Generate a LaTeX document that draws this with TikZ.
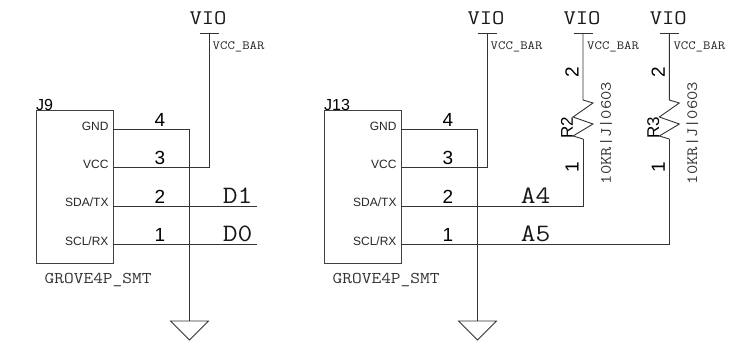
\documentclass[tikz,border=0pt]{standalone}
\usepackage{fontspec}
\setmainfont{Liberation Sans}
\newfontfamily\schmono[FakeStretch=1.15]{Latin Modern Mono}
\tikzset{
  wire/.style={line width=0.9pt,color=black!80},
  part/.style={draw=black!75,line width=0.9pt,inner sep=0pt,outer sep=0pt,minimum width=77pt,minimum height=153pt,anchor=north west},
  pinname/.style={inner sep=0pt,anchor=base east,font=\fontsize{12}{12}\selectfont,color=black!85},
  pinnum/.style={inner sep=0pt,anchor=base,font=\fontsize{19}{19}\selectfont},
  refdes/.style={inner sep=0pt,anchor=base west,font=\fontsize{16}{16}\selectfont},
  railtop/.style={inner sep=0pt,anchor=base,font=\schmono\fontsize{20.8}{20.8}\selectfont,color=black!90},
  netname/.style={inner sep=0pt,anchor=base,font=\schmono\fontsize{25}{25}\selectfont,color=black!90},
  railname/.style={inner sep=0pt,anchor=base west,font=\schmono\fontsize{12.5}{12.5}\selectfont,color=black!85},
  footprint/.style={inner sep=0pt,anchor=base west,font=\schmono\fontsize{16.4}{16.4}\selectfont,color=black!80},
  rotnum/.style={inner sep=0pt,rotate=90,font=\fontsize{19}{19}\selectfont},
  rotref/.style={inner sep=0pt,rotate=90,font=\fontsize{17}{17}\selectfont},
  rotval/.style={inner sep=0pt,rotate=90,font=\schmono\fontsize{15.7}{15.7}\selectfont,color=black!80},
}
\begin{document}
\begin{tikzpicture}[x=1pt,y=1pt]
  \useasboundingbox (0,0) rectangle (751,-359);

  % J9
  \node[part] (J9) at (36.3,-110) {};
  \node[refdes] (J9ref) at (36,-110) {J9};
  \node[footprint] (J9fp) at (44.5,-283) {GROVE4P\_SMT};
  \node[pinname] (J9gnd) at (108.7,-130) {GND};
  \node[pinname] (J9vcc) at (108.7,-168) {VCC};
  \node[pinname] (J9sda) at (108.7,-206) {SDA/TX};
  \node[pinname] (J9scl) at (108.7,-245) {SCL/RX};
  \node[pinnum] (J9n4) at (160,-126) {4};
  \node[pinnum] (J9n3) at (160,-164) {3};
  \node[pinnum] (J9n2) at (160,-203) {2};
  \node[pinnum] (J9n1) at (160,-241) {1};
  \coordinate (J9p4) at (113.3,-129.5);
  \coordinate (J9p3) at (113.3,-167.8);
  \coordinate (J9p2) at (113.3,-206);
  \coordinate (J9p1) at (113.3,-244.5);
  \coordinate (J9gtop) at (189.5,-321);
  \coordinate (J9vbar) at (209,-33);
  \coordinate (J9d1) at (257,-206);
  \coordinate (J9d0) at (257,-244.5);
  \node[netname] (D1) at (237.7,-203) {D1};
  \node[netname] (D0) at (237.7,-241) {D0};
  \node[railtop] (VIOa) at (208,-24.5) {VIO};
  \node[railname] (VCCa) at (212.5,-49) {VCC\_BAR};
  \draw[wire] (J9p4) -| (J9gtop);
  \draw[wire] (J9p3) -| (J9vbar);
  \draw[wire] (J9p2) -- (J9d1);
  \draw[wire] (J9p1) -- (J9d0);
  \draw[wire] ([xshift=-9.5pt]J9vbar) -- ([xshift=9.5pt]J9vbar);
  \draw[wire] ([xshift=-19pt]J9gtop) -- ([xshift=19pt]J9gtop) -- ([yshift=-19pt]J9gtop) -- cycle;

  % J13
  \node[part] (J13) at (324.3,-110) {};
  \node[refdes] (J13ref) at (324,-110) {J13};
  \node[footprint] (J13fp) at (332.5,-283) {GROVE4P\_SMT};
  \node[pinname] (J13gnd) at (396.7,-130) {GND};
  \node[pinname] (J13vcc) at (396.7,-168) {VCC};
  \node[pinname] (J13sda) at (396.7,-206) {SDA/TX};
  \node[pinname] (J13scl) at (396.7,-245) {SCL/RX};
  \node[pinnum] (J13n4) at (448,-126) {4};
  \node[pinnum] (J13n3) at (448,-164) {3};
  \node[pinnum] (J13n2) at (448,-203) {2};
  \node[pinnum] (J13n1) at (448,-241) {1};
  \coordinate (J13p4) at (401.3,-129.5);
  \coordinate (J13p3) at (401.3,-167.8);
  \coordinate (J13p2) at (401.3,-206);
  \coordinate (J13p1) at (401.3,-244.5);
  \coordinate (J13gtop) at (477.5,-321);
  \coordinate (J13vbar) at (487,-33);
  \node[netname] (A4) at (535.7,-203) {A4};
  \node[netname] (A5) at (535.7,-241) {A5};
  \node[railtop] (VIOb) at (486,-24.5) {VIO};
  \node[railname] (VCCb) at (490.5,-49) {VCC\_BAR};
  \draw[wire] (J13p4) -| (J13gtop);
  \draw[wire] (J13p3) -| (J13vbar);
  \draw[wire] ([xshift=-9.5pt]J13vbar) -- ([xshift=9.5pt]J13vbar);
  \draw[wire] ([xshift=-19pt]J13gtop) -- ([xshift=19pt]J13gtop) -- ([yshift=-19pt]J13gtop) -- cycle;

  % R2
  \coordinate (R2bar) at (583,-33);
  \coordinate (R2top) at (583,-100);
  \coordinate (R2bot) at (583,-139);
  \node[railtop] (VIOc) at (582,-24.5) {VIO};
  \node[railname] (VCCc) at (587,-49) {VCC\_BAR};
  \node[rotnum] (R2n2) at (572,-72) {2};
  \node[rotnum] (R2n1) at (572,-167) {1};
  \node[rotref] (R2ref) at (567,-128) {R2};
  \node[rotval] (R2val) at (606,-133) {10KR|J|0603};
  \draw[wire] ([xshift=-9.5pt]R2bar) -- ([xshift=9.5pt]R2bar);
  \draw[wire] (R2bar) -- (R2top) -- ++(10,-3) -- ++(-20,-14) -- ++(20,-7) -- ++(-20,-12) -- (R2bot);
  \draw[wire] (J13p2) -| (R2bot);

  % R3
  \coordinate (R3bar) at (669.3,-33);
  \coordinate (R3top) at (669.3,-100);
  \coordinate (R3bot) at (669.3,-139);
  \node[railtop] (VIOd) at (668.3,-24.5) {VIO};
  \node[railname] (VCCd) at (673.3,-49) {VCC\_BAR};
  \node[rotnum] (R3n2) at (658.3,-72) {2};
  \node[rotnum] (R3n1) at (658.3,-167) {1};
  \node[rotref] (R3ref) at (653.3,-128) {R3};
  \node[rotval] (R3val) at (692.3,-133) {10KR|J|0603};
  \draw[wire] ([xshift=-9.5pt]R3bar) -- ([xshift=9.5pt]R3bar);
  \draw[wire] (R3bar) -- (R3top) -- ++(10,-3) -- ++(-20,-14) -- ++(20,-7) -- ++(-20,-12) -- (R3bot);
  \draw[wire] (J13p1) -| (R3bot);
\end{tikzpicture}
\end{document}
